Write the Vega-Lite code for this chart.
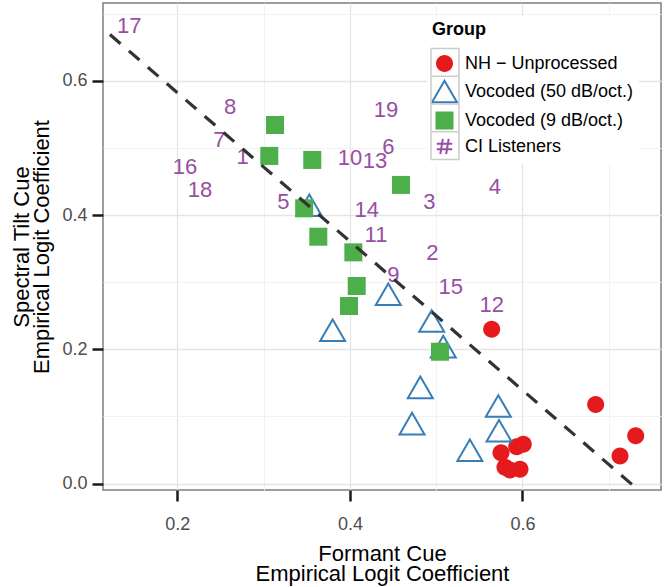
{
  "$schema": "https://vega.github.io/schema/vega-lite/v6.json",
  "width": 558,
  "height": 487,
  "autosize": {"type": "none"},
  "padding": {"left": 103, "top": 3, "right": 3, "bottom": 97},
  "background": "white",
  "datasets": {
    "pts": [
      {"x": 0.5643, "y": 0.2298, "Group": "NH − Unprocessed"},
      {"x": 0.6848, "y": 0.118, "Group": "NH − Unprocessed"},
      {"x": 0.7312, "y": 0.0713, "Group": "NH − Unprocessed"},
      {"x": 0.713, "y": 0.0411, "Group": "NH − Unprocessed"},
      {"x": 0.5751, "y": 0.046, "Group": "NH − Unprocessed"},
      {"x": 0.5933, "y": 0.055, "Group": "NH − Unprocessed"},
      {"x": 0.6009, "y": 0.0585, "Group": "NH − Unprocessed"},
      {"x": 0.5797, "y": 0.0243, "Group": "NH − Unprocessed"},
      {"x": 0.5971, "y": 0.0213, "Group": "NH − Unprocessed"},
      {"x": 0.5855, "y": 0.0203, "Group": "NH − Unprocessed"},
      {"x": 0.353, "y": 0.4146, "Group": "Vocoded (50 dB/oct.)"},
      {"x": 0.4445, "y": 0.282, "Group": "Vocoded (50 dB/oct.)"},
      {"x": 0.38, "y": 0.2283, "Group": "Vocoded (50 dB/oct.)"},
      {"x": 0.4948, "y": 0.2421, "Group": "Vocoded (50 dB/oct.)"},
      {"x": 0.5082, "y": 0.204, "Group": "Vocoded (50 dB/oct.)"},
      {"x": 0.572, "y": 0.1156, "Group": "Vocoded (50 dB/oct.)"},
      {"x": 0.5728, "y": 0.0788, "Group": "Vocoded (50 dB/oct.)"},
      {"x": 0.539, "y": 0.0496, "Group": "Vocoded (50 dB/oct.)"},
      {"x": 0.4816, "y": 0.1433, "Group": "Vocoded (50 dB/oct.)"},
      {"x": 0.472, "y": 0.0894, "Group": "Vocoded (50 dB/oct.)"},
      {"x": 0.3132, "y": 0.534, "Group": "Vocoded (9 dB/oct.)"},
      {"x": 0.3066, "y": 0.488, "Group": "Vocoded (9 dB/oct.)"},
      {"x": 0.3564, "y": 0.482, "Group": "Vocoded (9 dB/oct.)"},
      {"x": 0.4592, "y": 0.4448, "Group": "Vocoded (9 dB/oct.)"},
      {"x": 0.347, "y": 0.41, "Group": "Vocoded (9 dB/oct.)"},
      {"x": 0.3634, "y": 0.3677, "Group": "Vocoded (9 dB/oct.)"},
      {"x": 0.404, "y": 0.3444, "Group": "Vocoded (9 dB/oct.)"},
      {"x": 0.4079, "y": 0.2943, "Group": "Vocoded (9 dB/oct.)"},
      {"x": 0.399, "y": 0.2645, "Group": "Vocoded (9 dB/oct.)"},
      {"x": 0.5044, "y": 0.1964, "Group": "Vocoded (9 dB/oct.)"}
    ],
    "ci": [
      {"x": 0.1442, "y": 0.681, "label": "17"},
      {"x": 0.2611, "y": 0.561, "label": "8"},
      {"x": 0.2487, "y": 0.5117, "label": "7"},
      {"x": 0.2758, "y": 0.486, "label": "1"},
      {"x": 0.2089, "y": 0.471, "label": "16"},
      {"x": 0.2263, "y": 0.437, "label": "18"},
      {"x": 0.3228, "y": 0.4198, "label": "5"},
      {"x": 0.4418, "y": 0.557, "label": "19"},
      {"x": 0.4445, "y": 0.5017, "label": "6"},
      {"x": 0.4001, "y": 0.4844, "label": "10"},
      {"x": 0.429, "y": 0.4804, "label": "13"},
      {"x": 0.4195, "y": 0.4074, "label": "14"},
      {"x": 0.492, "y": 0.4198, "label": "3"},
      {"x": 0.5681, "y": 0.4412, "label": "4"},
      {"x": 0.4302, "y": 0.3702, "label": "11"},
      {"x": 0.4955, "y": 0.3439, "label": "2"},
      {"x": 0.4503, "y": 0.3106, "label": "9"},
      {"x": 0.5168, "y": 0.2932, "label": "15"},
      {"x": 0.5643, "y": 0.266, "label": "12"}
    ],
    "fit": [
      {"x": 0.1, "y": 0.693},
      {"x": 0.77, "y": -0.049}
    ]
  },
  "layer": [
    {
      "data": {"name": "pts"},
      "mark": {"type": "point", "size": 529, "strokeWidth": 2},
      "encoding": {
        "x": {"field": "x", "type": "quantitative", "scale": {"domain": [0.1139, 0.7605], "nice": false, "zero": false},
              "axis": {"title": ["Formant Cue", "Empirical Logit Coefficient"], "values": [0.2, 0.3, 0.4, 0.5, 0.6, 0.7]}},
        "y": {"field": "y", "type": "quantitative", "scale": {"domain": [-0.0095, 0.7157], "nice": false, "zero": false},
              "axis": {"title": ["Spectral Tilt Cue", "Empirical Logit Coefficient"], "values": [0, 0.1, 0.2, 0.3, 0.4, 0.5, 0.6, 0.7]}},
        "shape": {"field": "Group", "type": "nominal",
          "scale": {"domain": ["NH − Unprocessed", "Vocoded (50 dB/oct.)", "Vocoded (9 dB/oct.)", "CI Listeners"],
                    "range": [
                      "M0.739,0A0.739,0.739,0,1,1,-0.739,0A0.739,0.739,0,1,1,0.739,0Z",
                      "M0,-0.939L1.087,0.939L-1.087,0.939Z",
                      "M-0.783,-0.783L0.783,-0.783L0.783,0.783L-0.783,0.783Z",
                      "M-0.146,-0.67L-0.365,0.67M0.365,-0.67L0.146,0.67M-0.67,-0.243L0.67,-0.243M-0.67,0.243L0.67,0.243"
                    ]},
          "legend": {"title": "Group", "orient": "none", "legendX": 324, "legendY": 13, "fillColor": "white",
                     "labelExpr": "datum.label + '\u00a0\u00a0\u00a0\u00a0'"}},
        "fill": {"field": "Group", "type": "nominal",
          "scale": {"domain": ["NH − Unprocessed", "Vocoded (50 dB/oct.)", "Vocoded (9 dB/oct.)", "CI Listeners"],
                    "range": ["#E41A1C", "transparent", "#4DAF4A", "transparent"]},
          "legend": {"title": "Group", "orient": "none", "legendX": 324, "legendY": 13, "fillColor": "white",
                     "labelExpr": "datum.label + '\u00a0\u00a0\u00a0\u00a0'"}},
        "stroke": {"field": "Group", "type": "nominal",
          "scale": {"domain": ["NH − Unprocessed", "Vocoded (50 dB/oct.)", "Vocoded (9 dB/oct.)", "CI Listeners"],
                    "range": ["transparent", "#377EB8", "transparent", "#984EA3"]},
          "legend": {"title": "Group", "orient": "none", "legendX": 324, "legendY": 13, "fillColor": "white",
                     "labelExpr": "datum.label + '\u00a0\u00a0\u00a0\u00a0'"}},
        "opacity": {"field": "Group", "type": "nominal",
          "scale": {"type": "ordinal", "domain": ["CI Listeners", "Vocoded (9 dB/oct.)", "Vocoded (50 dB/oct.)", "NH − Unprocessed"],
                    "range": [1, 1, 1, 1]},
          "legend": {"title": null, "orient": "none", "legendX": 286, "legendY": 45,
                     "values": ["NH − Unprocessed"],
                     "labelColor": "transparent",
                     "symbolType": "M-0.28,-1.108L0.28,-1.108L0.28,1.108L-0.28,1.108ZM-0.28,-0.554L0.28,-0.554M-0.28,0L0.28,0M-0.28,0.554L0.28,0.554",
                     "symbolSize": 10000,
                     "symbolFillColor": "transparent", "symbolStrokeColor": "#cccccc",
                     "symbolStrokeWidth": 1.5}}
      }
    },
    {
      "data": {"name": "ci"},
      "mark": {"type": "text", "fontSize": 22, "color": "#984EA3", "align": "center", "baseline": "middle"},
      "encoding": {
        "x": {"field": "x", "type": "quantitative", "scale": {"domain": [0.1139, 0.7605], "nice": false, "zero": false}},
        "y": {"field": "y", "type": "quantitative", "scale": {"domain": [-0.0095, 0.7157], "nice": false, "zero": false}},
        "text": {"field": "label"}
      }
    },
    {
      "data": {"name": "fit"},
      "mark": {"type": "line", "clip": true, "color": "#333333", "strokeWidth": 3.2, "strokeDash": [14, 11]},
      "encoding": {
        "x": {"field": "x", "type": "quantitative", "scale": {"domain": [0.1139, 0.7605], "nice": false, "zero": false}},
        "y": {"field": "y", "type": "quantitative", "scale": {"domain": [-0.0095, 0.7157], "nice": false, "zero": false}}
      }
    }
  ],
  "config": {
    "font": "Liberation Sans",
    "view": {"stroke": "#7f7f7f", "strokeWidth": 1.5},
    "axis": {
      "domain": false,
      "grid": true,
      "gridColor": {"condition": {"test": "round(datum.value*10)%2==0", "value": "#E5E5E5"}, "value": "#F2F2F2"},
      "gridWidth": {"condition": {"test": "round(datum.value*10)%2==0", "value": 1.3}, "value": 1},
      "tickOpacity": {"condition": {"test": "round(datum.value*10)%2==0", "value": 1}, "value": 0},
      "labelExpr": "round(datum.value*10)%2==0 ? format(datum.value,'.1f') : ''",
      "tickColor": "#1a1a1a",
      "tickWidth": 2.5,
      "tickSize": 11,
      "labelFontSize": 18,
      "labelColor": "#4d4d4d",
      "labelFont": "Liberation Sans",
      "titleFont": "Liberation Sans",
      "titleFontSize": 22,
      "titleFontWeight": "normal",
      "titleColor": "#000000",
      "titleLineHeight": 20
    },
    "axisX": {"labelPadding": 14, "titlePadding": 10, "labelOverlap": false},
    "axisY": {"labelPadding": 5, "titlePadding": 8, "labelOverlap": false},
    "legend": {
      "padding": 5,
      "titleFont": "Liberation Sans",
      "titleFontSize": 18,
      "titleFontWeight": "bold",
      "titleColor": "#000000",
      "titlePadding": 12,
      "labelFont": "Liberation Sans",
      "labelFontSize": 18,
      "labelColor": "#000000",
      "labelOffset": 8,
      "labelLimit": 400,
      "rowPadding": 0,
      "symbolSize": 529,
      "symbolStrokeWidth": 2,
      "symbolOpacity": 1
    }
  }
}
